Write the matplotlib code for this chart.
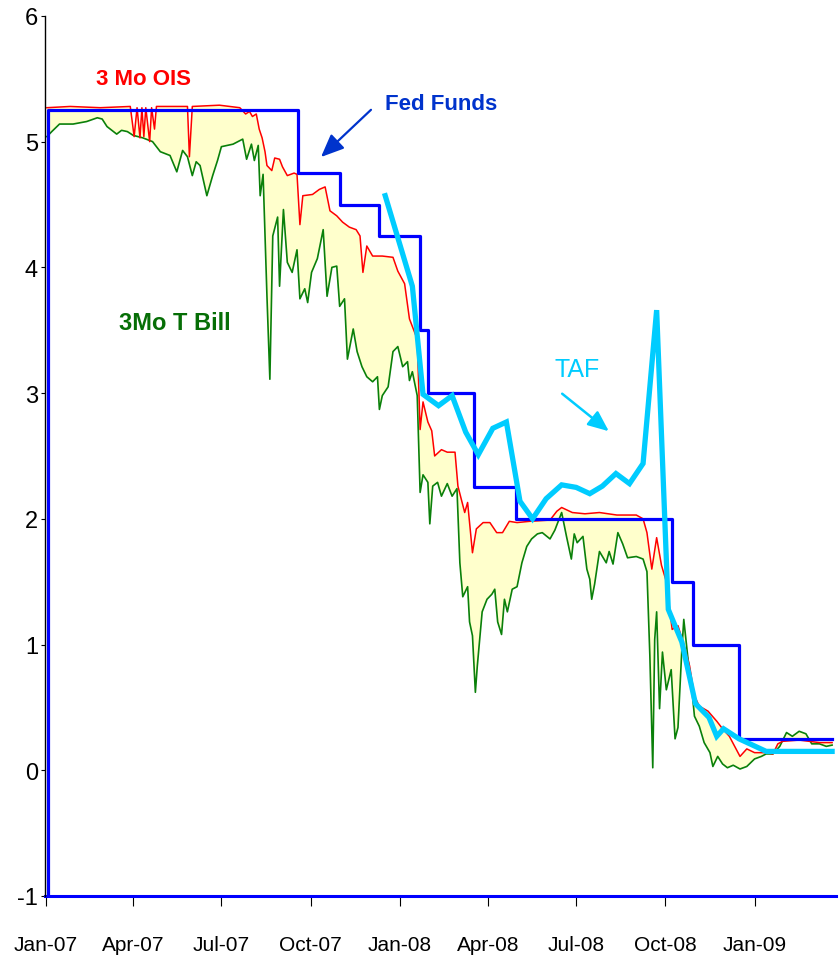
import numpy as np
import matplotlib
matplotlib.use("Agg")
import matplotlib.pyplot as plt
import matplotlib.dates as mdates

plt.rcParams["font.family"] = ["Liberation Sans", "DejaVu Sans"]
plt.rcParams["axes.unicode_minus"] = False

# days counted from 2007-01-01, rates in percent
ois_day = [1, 25, 56, 87, 91, 94, 97, 99, 101, 103, 107, 109, 112, 114, 146, 148, 151, 179, 200, 206,
           210, 213, 217, 220, 223, 226, 228, 233, 236, 241, 244, 249, 256, 259, 262, 265, 275, 282, 288, 293,
           300, 306, 313, 320, 324, 327, 331, 337, 347, 358, 363, 370, 375, 383, 386, 389, 394, 398, 401, 408,
           414, 422, 425, 432, 435, 440, 444, 451, 458, 465, 471, 478, 486, 499, 520, 527, 532, 543, 556, 571,
           589, 609, 616, 620, 625, 630, 635, 640, 646, 652, 658, 664, 669, 674, 683, 692, 698, 705, 716, 723,
           731, 743, 750, 755, 760, 777, 798, 811]
ois_rate = [5.27, 5.28, 5.27, 5.28, 5.04, 5.27, 5.03, 5.27, 5.04, 5.27, 5.00, 5.27, 5.10, 5.28, 5.28, 4.88, 5.28, 5.29, 5.27, 5.22,
            5.24, 5.20, 5.22, 5.10, 5.03, 4.92, 4.81, 4.77, 4.87, 4.86, 4.80, 4.73, 4.75, 4.74, 4.34, 4.57, 4.58, 4.62, 4.64, 4.45,
            4.41, 4.36, 4.32, 4.30, 4.25, 3.96, 4.17, 4.09, 4.09, 4.08, 3.97, 3.87, 3.59, 3.43, 2.71, 2.93, 2.77, 2.70, 2.50, 2.55,
            2.53, 2.53, 2.26, 2.05, 2.13, 1.73, 1.92, 1.97, 1.97, 1.89, 1.89, 1.98, 1.97, 1.98, 1.99, 2.06, 2.09, 2.05, 2.04, 2.05,
            2.03, 2.03, 2.00, 1.89, 1.60, 1.85, 1.63, 1.50, 1.12, 1.15, 1.00, 0.83, 0.59, 0.51, 0.47, 0.39, 0.33, 0.27, 0.11, 0.17,
            0.14, 0.14, 0.13, 0.21, 0.23, 0.24, 0.22, 0.22]

tbill_day = [1, 6, 14, 28, 42, 53, 58, 63, 73, 78, 84, 90, 100, 110, 118, 128, 135, 141, 146, 151,
             155, 159, 166, 172, 177, 181, 193, 203, 207, 212, 215, 219, 221, 224, 228, 231, 234, 239, 241, 245,
             249, 254, 259, 262, 267, 270, 274, 280, 286, 290, 295, 300, 303, 308, 311, 317, 321, 326, 331, 337,
             342, 344, 347, 353, 358, 363, 368, 373, 375, 378, 383, 386, 389, 394, 396, 399, 404, 408, 414, 419,
             424, 427, 430, 435, 437, 440, 443, 445, 450, 455, 460, 463, 466, 470, 473, 476, 481, 486, 491, 496,
             501, 507, 512, 520, 525, 532, 537, 542, 545, 548, 554, 558, 561, 563, 566, 571, 578, 581, 585, 590,
             595, 600, 609, 616, 620, 623, 626, 628, 630, 633, 636, 640, 645, 649, 652, 656, 658, 662, 666, 669,
             674, 679, 685, 688, 693, 698, 703, 709, 716, 723, 731, 738, 743, 750, 757, 764, 770, 777, 784, 790,
             798, 805, 811]
tbill_rate = [5.04, 5.08, 5.14, 5.14, 5.16, 5.19, 5.18, 5.12, 5.06, 5.09, 5.08, 5.05, 5.03, 5.00, 4.92, 4.89, 4.76, 4.93, 4.88, 4.73,
              4.84, 4.81, 4.57, 4.73, 4.85, 4.96, 4.98, 5.02, 4.86, 4.98, 4.85, 4.97, 4.57, 4.74, 3.77, 3.11, 4.25, 4.40, 3.85, 4.46,
              4.04, 3.96, 4.14, 3.75, 3.83, 3.72, 3.96, 4.07, 4.30, 3.77, 4.00, 4.01, 3.69, 3.75, 3.27, 3.51, 3.33, 3.21, 3.13, 3.09,
              3.13, 2.87, 2.98, 3.05, 3.33, 3.37, 3.21, 3.25, 3.10, 3.17, 2.98, 2.21, 2.35, 2.29, 1.96, 2.26, 2.29, 2.18, 2.28, 2.18,
              2.24, 1.65, 1.38, 1.46, 1.18, 1.07, 0.62, 0.83, 1.26, 1.36, 1.40, 1.44, 1.18, 1.08, 1.36, 1.26, 1.44, 1.46, 1.65, 1.78,
              1.84, 1.88, 1.89, 1.84, 1.91, 2.05, 1.86, 1.68, 1.88, 1.81, 1.86, 1.60, 1.52, 1.36, 1.48, 1.74, 1.65, 1.74, 1.64, 1.89,
              1.80, 1.69, 1.70, 1.68, 1.58, 0.91, 0.02, 1.04, 1.26, 0.49, 0.94, 0.64, 0.80, 0.25, 0.34, 0.96, 1.20, 0.91, 0.67, 0.43,
              0.35, 0.22, 0.14, 0.03, 0.11, 0.05, 0.02, 0.04, 0.01, 0.03, 0.09, 0.11, 0.13, 0.13, 0.19, 0.30, 0.27, 0.31, 0.29, 0.21,
              0.21, 0.19, 0.20]

taf_day = [350, 378, 389, 405, 419, 433, 446, 461, 475, 489, 502, 516, 532, 547, 561, 574, 588, 602, 616, 630,
           642, 656, 670, 684, 692, 699, 715, 743, 811]
taf_rate = [4.57, 3.85, 2.99, 2.90, 2.98, 2.69, 2.51, 2.72, 2.77, 2.14, 2.00, 2.16, 2.27, 2.25, 2.20, 2.26, 2.36, 2.28, 2.44, 3.66,
            1.28, 1.02, 0.53, 0.42, 0.27, 0.33, 0.25, 0.15, 0.15]

ff_dates = ["2007-01-03", "2007-09-18", "2007-10-31", "2007-12-11", "2008-01-22", "2008-01-30",
            "2008-03-18", "2008-04-30", "2008-10-08", "2008-10-29", "2008-12-16", "2009-03-22"]
ff_rate = [5.25, 4.75, 4.50, 4.25, 3.50, 3.00, 2.25, 2.00, 1.50, 1.00, 0.25, 0.25]

tick_dates = ["2007-01-01", "2007-04-01", "2007-07-01", "2007-10-01", "2008-01-01",
              "2008-04-01", "2008-07-01", "2008-10-01", "2009-01-01"]

Y_MIN, Y_MAX = -1, 6
BASE = np.datetime64("2007-01-01")


def to_dates(days):
    return BASE + np.asarray(days).astype("timedelta64[D]")


ois_x, tbill_x, taf_x = to_dates(ois_day), to_dates(tbill_day), to_dates(taf_day)
ff_x = np.array(ff_dates, dtype="datetime64[D]")

fig = plt.figure(figsize=(8.39, 9.62), dpi=100)
ax = fig.add_axes([0.0536, 0.0676, 0.9428, 0.9148])

# spread between OIS and T-bill
ax.fill(np.concatenate([ois_x, tbill_x[::-1]]),
        np.concatenate([ois_rate, tbill_rate[::-1]]),
        color="#FFFFCC", lw=0, zorder=1)

ax.plot(tbill_x, tbill_rate, color="#0A800A", lw=1.2, zorder=2)
ax.plot(ois_x, ois_rate, color="#FF0000", lw=1.1, zorder=3)

# fed funds target, drawn up from the bottom of the axis like the original
ax.step(np.concatenate([ff_x[:1], ff_x]), [Y_MIN] + ff_rate, where="post",
        color="#0000FF", lw=2.3, zorder=4)

ax.plot(taf_x, taf_rate, color="#00CCFF", lw=3.8, zorder=5, solid_joinstyle="miter")

ax.set_ylim(Y_MIN, Y_MAX)
ax.set_xlim(np.datetime64("2006-12-31"), np.datetime64("2009-03-26"))
ax.set_yticks(range(Y_MIN, Y_MAX + 1))
ax.set_xticks(np.array(tick_dates, dtype="datetime64[D]"))
ax.xaxis.set_major_formatter(mdates.DateFormatter("%b-%y"))

for lab in ax.get_xticklabels():
    lab.set_fontsize(15)
for lab in ax.get_yticklabels():
    lab.set_fontsize(17)

ax.tick_params(axis="x", direction="out", length=7, width=0.8, pad=21)
ax.tick_params(axis="y", direction="out", length=3, width=0.8, pad=2)

for s in ("top", "right"):
    ax.spines[s].set_visible(False)
ax.spines["left"].set_color("black")
ax.spines["left"].set_linewidth(1.0)
ax.spines["left"].set_zorder(6)
ax.spines["bottom"].set_color("#0000FF")
ax.spines["bottom"].set_linewidth(2.2)

# labels and arrows
ax.text(0.125, 0.9284, "3 Mo OIS", transform=ax.transAxes, color="#FF0000",
        fontsize=16, fontweight="bold", ha="center", va="center")
ax.text(0.5006, 0.900, "Fed Funds", transform=ax.transAxes, color="#0033CC",
        fontsize=16, fontweight="bold", ha="center", va="center")
ax.annotate("", xy=(0.3464, 0.8375), xytext=(0.4147, 0.8955), xycoords="axes fraction",
            arrowprops=dict(arrowstyle="-|>,head_length=0.7,head_width=0.3", color="#0033CC",
                            lw=1.6, mutation_scale=20))
ax.text(0.1643, 0.6511, "3Mo T Bill", transform=ax.transAxes, color="#066E06",
        fontsize=17, fontweight="bold", ha="center", va="center")
ax.text(0.6726, 0.5989, "TAF", transform=ax.transAxes, color="#00CCFF",
        fontsize=18, ha="center", va="center")
ax.annotate("", xy=(0.7156, 0.5261), xytext=(0.6511, 0.5727), xycoords="axes fraction",
            arrowprops=dict(arrowstyle="-|>,head_length=0.7,head_width=0.3", color="#00CCFF",
                            lw=1.8, mutation_scale=18))

fig.savefig("out.png", dpi=100)
